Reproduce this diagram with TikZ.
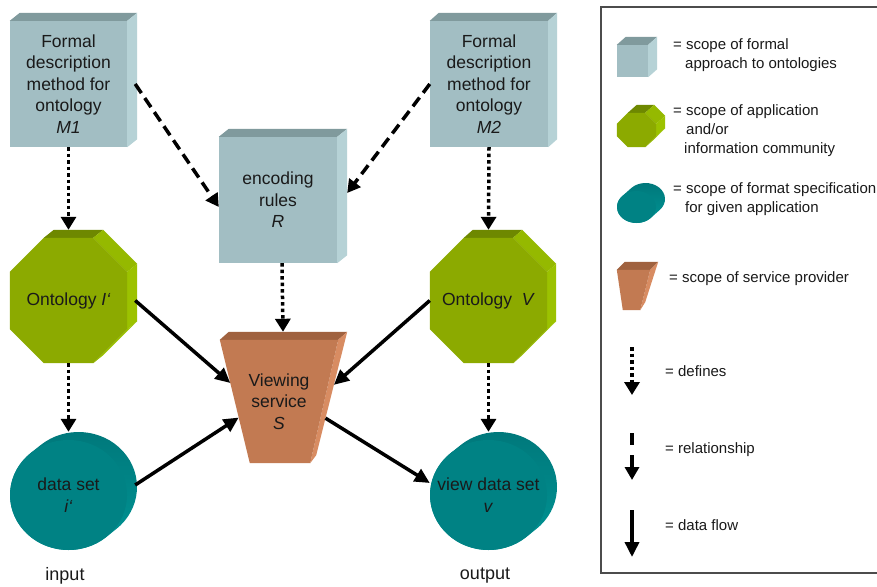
\documentclass[tikz,border=0pt]{standalone}
\usepackage{fontspec}
\setmainfont{Liberation Sans}
\usetikzlibrary{arrows.meta,calc,backgrounds}

\definecolor{cubeFront}{HTML}{A2BEC3}
\definecolor{cubeTop}{HTML}{809A9D}
\definecolor{cubeSide}{HTML}{B6D2D6}
\definecolor{octFront}{HTML}{8CAA00}
\definecolor{octTop}{HTML}{6E8800}
\definecolor{octSide}{HTML}{9CC200}
\definecolor{cylFront}{HTML}{008284}
\definecolor{cylTop}{HTML}{00777A}
\definecolor{cylSide}{HTML}{009696}
\definecolor{trapFront}{HTML}{C27A52}
\definecolor{trapTop}{HTML}{A0623F}
\definecolor{trapSide}{HTML}{D88C62}
\definecolor{ink}{HTML}{1A1A1A}

% box with top and right faces: node, depth x, depth y
\newcommand\cubefaces[3]{%
  \fill[cubeTop] (#1.north west) -- ++(#2,-#3) -- ($(#1.north east)+(#2,-#3)$) -- (#1.north east) -- cycle;
  \fill[cubeSide] (#1.north east) -- ++(#2,-#3) -- ($(#1.south east)+(#2,-#3)$) -- (#1.south east) -- cycle;
  \fill[cubeFront] (#1.north west) rectangle (#1.south east);
}
% octagonal prism: node, chamfer, depth x, depth y
\newcommand\octfaces[4]{%
  \coordinate (#1-p1) at ($(#1.north west)+(#2,0)$);
  \coordinate (#1-p2) at ($(#1.north east)+(-#2,0)$);
  \coordinate (#1-p3) at ($(#1.north east)+(0,#2)$);
  \coordinate (#1-p4) at ($(#1.south east)+(0,-#2)$);
  \coordinate (#1-p5) at ($(#1.south east)+(-#2,0)$);
  \coordinate (#1-p6) at ($(#1.south west)+(#2,0)$);
  \coordinate (#1-p7) at ($(#1.south west)+(0,-#2)$);
  \coordinate (#1-p8) at ($(#1.north west)+(0,#2)$);
  \fill[octTop] (#1-p1) -- (#1-p2) -- ++(#3,-#4) -- ($(#1-p1)+(#3,-#4)$) -- cycle;
  \fill[octSide!85!octTop] (#1-p2) -- (#1-p3) -- ++(#3,-#4) -- ($(#1-p2)+(#3,-#4)$) -- cycle;
  \fill[octSide] (#1-p3) -- (#1-p4) -- ++(#3,-#4) -- ($(#1-p3)+(#3,-#4)$) -- cycle;
  \fill[octSide] (#1-p4) -- (#1-p5) -- ++(#3,-#4) -- ($(#1-p4)+(#3,-#4)$) -- cycle;
  \fill[octFront] (#1-p1) -- (#1-p2) -- (#1-p3) -- (#1-p4) -- (#1-p5) -- (#1-p6) -- (#1-p7) -- (#1-p8) -- cycle;
}
% elliptic cylinder: node, x radius, y radius, depth x, depth y
\newcommand\cylfaces[5]{%
  \pgfmathsetmacro\cylt{atan((#3*#4)/(#2*#5))}%
  \pgfmathsetmacro\cylta{\cylt-180}%
  \pgfmathsetmacro\cyltb{\cylt+180}%
  \shade[top color=cylTop, bottom color=cylSide]
    ($(#1.center)+({#2*cos(\cylt)},{#3*sin(\cylt)})$) -- ++(#4,-#5)
    arc[start angle=\cylt, end angle=\cylta, x radius=#2, y radius=#3] -- ++(-#4,#5)
    arc[start angle=\cyltb, end angle=\cylt, x radius=#2, y radius=#3] -- cycle;
  \fill[cylFront] (#1.center) ellipse [x radius=#2, y radius=#3];
}
% tapered block: node, bottom-left inset, bottom-right inset, depth x, depth y, depth x at bottom
\newcommand\trapfaces[6]{%
  \coordinate (#1-tl) at (#1.north west);
  \coordinate (#1-tr) at (#1.north east);
  \coordinate (#1-bl) at ($(#1.south west)+(#2,0)$);
  \coordinate (#1-br) at ($(#1.south east)+(-#3,0)$);
  \coordinate (#1-trb) at ($(#1-tr)+(#4,-#5)$);
  \coordinate (#1-brb) at ($(#1-br)+(#6,-#5)$);
  \fill[trapTop] (#1-tl) -- (#1-tr) -- (#1-trb) -- ($(#1-tl)+(#4,-#5)$) -- cycle;
  \fill[trapSide] (#1-tr) -- (#1-trb) -- (#1-brb) -- (#1-br) -- cycle;
  \fill[trapFront] (#1-tl) -- (#1-tr) -- (#1-br) -- (#1-bl) -- cycle;
}

\begin{document}
\begin{tikzpicture}[x=1pt,y=-1pt,
  lbl/.style={font=\fontsize{17.5}{21.5}\selectfont, text=ink, align=center, inner sep=0pt},
  solid/.style={lbl, rectangle, minimum width=#1},
  solid/.default=117pt,
  blank/.style={rectangle, inner sep=0pt},
  legtext/.style={font=\fontsize{15}{19}\selectfont, text=ink, inner sep=0pt, anchor=base west},
  defines/.style={line width=3.5pt, dash pattern=on 3.5pt off 3pt, -{Triangle[length=13pt,width=15pt]}},
  relation/.style={line width=3.5pt, dash pattern=on 11pt off 6pt, -{Triangle[length=13pt,width=14pt]}},
  flow/.style={line width=3.5pt, -{Triangle[length=15pt,width=14pt]}}]

\useasboundingbox (0,0) rectangle (877,586);

% ---------- main blocks ----------
\node[solid, minimum height=126pt] (M1) at (68.5,84) {Formal\\description\\method for\\ontology\\\textit{M1}};
\node[solid=118pt, minimum height=126pt] (M2) at (489,84) {Formal\\description\\method for\\ontology\\\textit{M2}};
\node[solid=118pt, minimum height=126pt] (R) at (278,200) {encoding\\rules\\\textit{R}};
\node[solid, minimum height=125pt] (oI) at (68.5,300.5) {Ontology \textit{I‘}};
\node[solid, minimum height=125pt] (oV) at (488.5,300.5) {Ontology \ \textit{V}};
\node[solid=118pt, minimum height=123pt] (S) at (279,401.5) {Viewing\\service\\\textit{S}};
\node[solid, minimum height=110pt] (di) at (68.5,495) {data set\\\textit{i‘}};
\node[solid, minimum height=110pt] (dv) at (488.5,495) {view data set\\\textit{v}};

\node[font=\fontsize{18}{20}\selectfont, text=ink, inner sep=0pt] (inlbl) at (65,576) {input};
\node[font=\fontsize{18}{20}\selectfont, text=ink, inner sep=0pt] (outlbl) at (485,576) {output};

% ---------- legend ----------
\draw[black!70, line width=1.2pt] (601,7) rectangle (920,573);

\node[blank, minimum width=31pt, minimum height=32pt] (lgCube) at (632.5,61) {};
\node[blank, minimum width=39pt, minimum height=34pt] (lgOct) at (636.5,130) {};
\node[blank, minimum width=39pt, minimum height=32pt] (lgCyl) at (636.5,207) {};
\node[blank, minimum width=33pt, minimum height=40pt] (lgTrap) at (633.5,290) {};

\node[legtext] (t1a) at (673,49) {= scope of formal};
\node[legtext] (t1b) at (685,68) {approach to ontologies};
\node[legtext] (t2a) at (673,115) {= scope of application};
\node[legtext] (t2b) at (686,134) {and/or};
\node[legtext] (t2c) at (684,153) {information community};
\node[legtext] (t3a) at (673,193) {= scope of format specification};
\node[legtext] (t3b) at (685,212) {for given application};
\node[legtext] (t4a) at (669,282) {= scope of service provider};
\node[legtext] (t5a) at (665,376) {= defines};
\node[legtext] (t6a) at (665,453) {= relationship};
\node[legtext] (t7a) at (665,530) {= data flow};

\coordinate (ld1) at (632,347);
\coordinate (ld2) at (632,395);
\coordinate (lr1) at (632,433);
\coordinate (lr2) at (632,480);
\coordinate (lf1) at (632,510);
\coordinate (lf2) at (632,557);

% ---------- solid faces, behind the labels ----------
\begin{pgfonlayer}{background}
  \fill[white] (0,0) rectangle (877,586);
  \cubefaces{M1}{10}{8}
  \cubefaces{M2}{9}{8}
  \cubefaces{R}{10}{8}
  \octfaces{oI}{34}{10}{8}
  \octfaces{oV}{34}{9}{8}
  \cylfaces{di}{58.5}{55}{10}{8}
  \cylfaces{dv}{58.5}{55}{10}{8}
  \trapfaces{S}{30}{28}{9}{8}{6}
  \cubefaces{lgCube}{9}{8}
  \octfaces{lgOct}{11}{9}{8}
  \cylfaces{lgCyl}{19.5}{16}{9}{8}
  \trapfaces{lgTrap}{6}{10}{8}{8}{5}
\end{pgfonlayer}

% ---------- connectors ----------
\draw[defines] (M1.south) -- ([yshift=8pt]oI.north);
\draw[defines] (M2.south) -- ([yshift=8pt]oV.north);
\draw[defines] ([xshift=4pt]R.south) -- ([xshift=4pt,yshift=8pt]S.north);
\draw[defines] (oI.south) -- ([yshift=8pt]di.north);
\draw[defines] (oV.south) -- ([yshift=8pt]dv.north);

\draw[relation] ([xshift=8pt]M1.east) -- ([yshift=-7pt]R.west);
\draw[relation] (M2.west) -- ([xshift=10pt,yshift=7pt]R.east);

\draw[flow] ([xshift=8pt]oI.east) -- ($(S-tl)!0.35!(S-bl)$);
\draw[flow] ([xshift=8pt,yshift=10pt]di.east) -- ($(S-tl)!0.63!(S-bl)$);
\draw[flow] (oV.west) -- ($(S-trb)!0.43!(S-brb)$);
\draw[flow] ($(S-trb)!0.7!(S-brb)$) -- ([yshift=12pt]dv.west);

\draw[defines] (ld1) -- (ld2);
\draw[line width=3.5pt, dash pattern=on 12pt off 10pt, -{Triangle[length=13pt,width=14pt]}] (lr1) -- (lr2);
\draw[flow] (lf1) -- (lf2);
\end{tikzpicture}
\end{document}
